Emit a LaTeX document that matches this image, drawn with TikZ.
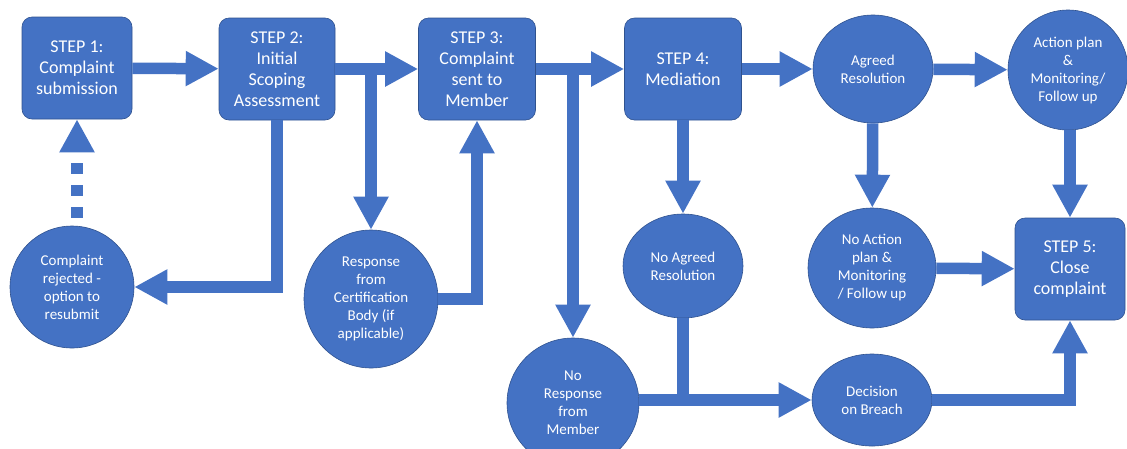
\documentclass[tikz,border=0pt]{standalone}
\usepackage{fontspec}
\setmainfont{Carlito}
\usetikzlibrary{arrows.meta,shapes.geometric}
\definecolor{flow}{HTML}{4472C4}
\definecolor{flowline}{HTML}{2F528F}
\begin{document}
\begin{tikzpicture}[x=1pt,y=-1pt,
  stepbox/.style={rectangle, rounded corners=10pt, fill=flow, draw=flowline, line width=0.6pt,
    minimum width=#1, minimum height=102pt, inner sep=0pt, text=white, align=center,
    font=\fontsize{18}{21}\selectfont},
  stepbox/.default=116pt,
  oval/.style 2 args={ellipse, fill=flow, draw=flowline, line width=0.6pt,
    minimum width=#1, minimum height=#2, inner sep=0pt, text=white, align=center,
    font=\fontsize{15}{18}\selectfont},
  arr/.style={draw=flow, line width=11.5pt, -{Triangle[width=33pt,length=33pt]}},
  shaft/.style={draw=flow, line width=11.5pt},
  dasharr/.style={draw=flow, line width=11.5pt, dash pattern=on 11pt off 11pt,
    -{Triangle[width=33pt,length=33pt]}}
]
\useasboundingbox (0,0) rectangle (1127,448);

% boxes
\node[stepbox=110pt] (s1) at (77,68) {STEP 1:\\Complaint\\submission};
\node[stepbox=116pt] (s2) at (277,69) {STEP 2:\\Initial\\Scoping\\Assessment};
\node[stepbox=117pt] (s3) at (477,69) {STEP 3:\\Complaint\\sent to\\Member};
\node[stepbox=117pt] (s4) at (683,69) {STEP 4:\\Mediation};
\node[stepbox=110pt] (s5) at (1070,269) {STEP 5:\\Close\\complaint};

% ovals
\node[oval={124pt}{122pt}] (rej) at (72,287) {Complaint\\rejected -\\option to\\resubmit};
\node[oval={134pt}{138pt}] (resp) at (371,299) {Response\\from\\Certification\\Body (if\\applicable)};
\node[oval={132pt}{130pt}] (nores) at (573,403) {No\\Response\\from\\Member};
\node[oval={120pt}{104pt}] (noag) at (683,266) {No Agreed\\Resolution};
\node[oval={120pt}{108pt}] (agr) at (873,69) {Agreed\\Resolution};
\node[oval={120pt}{120pt}] (act) at (1068,70) {Action plan\\\&\\Monitoring/\\Follow up};
\node[oval={128pt}{120pt}] (noact) at (872,268) {No Action\\plan \&\\Monitoring\\/ Follow up};
\node[oval={120pt}{92pt}] (dec) at (872,400) {Decision\\on Breach};

% connectors
\draw[arr] (s1) -- (s2);
\draw[arr] (s2) -- (s3);
\draw[arr] (resp |- s2) -- (resp);
\draw[arr] (s2) |- (rej);
\draw[dasharr, shorten <=8pt] (rej.north -| s1) -- (s1);
\draw[arr] (resp) -| (s3);
\draw[arr] (s3) -- (s4);
\draw[arr] (nores |- s3) -- (nores);
\draw[arr] (s4) -- (agr);
\draw[arr] (s4) -- (noag);
\draw[arr] (agr) -- (act);
\draw[arr] (agr) -- (noact);
\draw[arr] (act.south -| s5) -- (s5);
\draw[arr] (noact) -- (s5);
\draw[arr] (nores.east |- dec) -- (dec);
\draw[shaft] (noag) -- (noag |- dec);
\draw[arr] (dec) -| (s5);
\end{tikzpicture}
\end{document}
